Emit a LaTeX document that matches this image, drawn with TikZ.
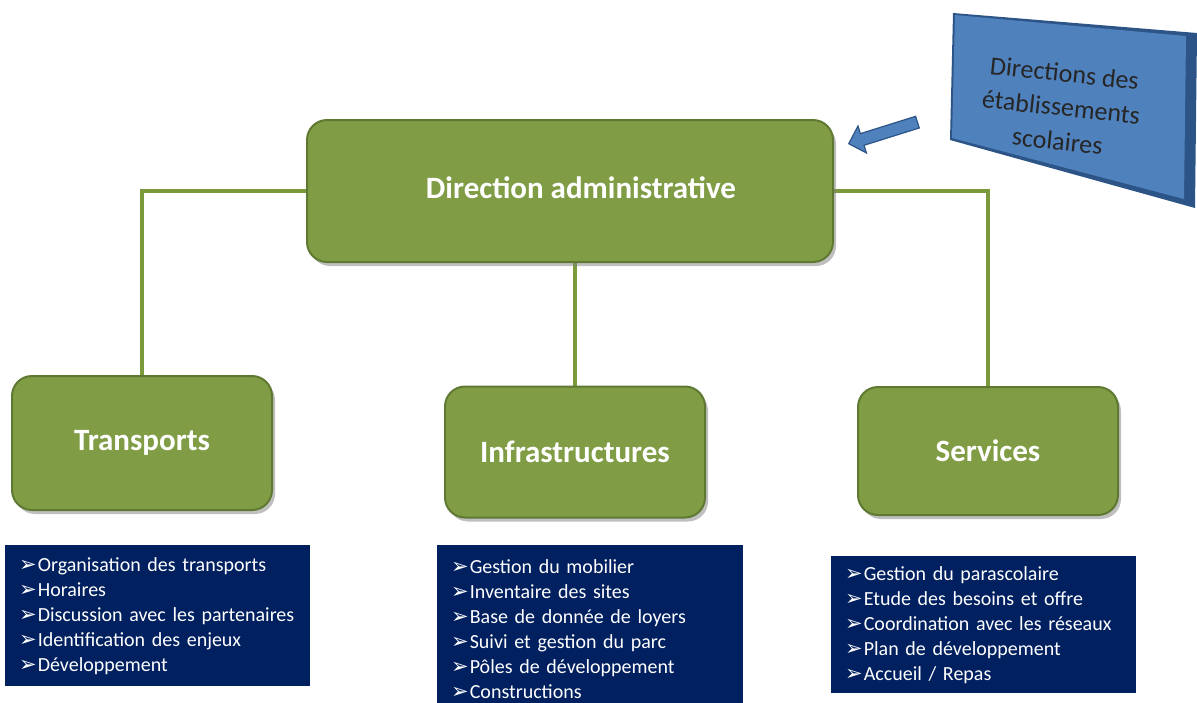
\documentclass[tikz,border=0pt]{standalone}
\usepackage{fontspec}
\setmainfont{Carlito}
\newfontfamily\symbfont{DejaVu Sans}
\usetikzlibrary{shadows}
\usetikzlibrary{shapes.arrows}
\usetikzlibrary{backgrounds}
\definecolor{boxGreen}{RGB}{128,157,70}
\definecolor{boxGreenDark}{RGB}{96,121,50}
\definecolor{lineGreen}{RGB}{122,154,60}
\definecolor{listBlue}{RGB}{0,32,96}
\definecolor{schoolBlue}{RGB}{79,129,189}
\definecolor{schoolBlueDark}{RGB}{45,84,134}
\newcommand{\puce}{{\symbfont\fontsize{21}{21}\selectfont ➢}\hspace{1pt}}
\tikzset{
	unitbox/.style={rounded corners=20pt, fill=boxGreen, draw=boxGreenDark, line width=2pt, text=white,
		font=\bfseries\fontsize{31}{31}\selectfont,
		drop shadow={shadow xshift=3pt, shadow yshift=-4pt, opacity=0.5}},
	tasklist/.style={anchor=north west, fill=listBlue, text=white, align=left, inner xsep=14pt,
		font=\fontsize{20}{25}\selectfont},
	link/.style={lineGreen, line width=4pt}
}

\begin{document}
\begin{tikzpicture}[x=1pt, y=-1pt]
\path[use as bounding box] (0,0) rectangle (1197,702);
\clip (0,0) rectangle (1197,702);
%
% les unites
\node[unitbox, minimum width=526pt, minimum height=142pt] (direction) at (570,191) {\hspace*{22pt}Direction administrative\raisebox{0pt}[0pt][6pt]{}};
\node[unitbox, minimum width=260pt, minimum height=134pt] (transports) at (142,443) {Transports};
\node[unitbox, minimum width=260pt, minimum height=131pt] (infra) at (575,452) {Infrastructures};
\node[unitbox, minimum width=260pt, minimum height=128pt] (services) at (988,451) {Services};
%
% liaisons
\begin{pgfonlayer}{background}
\draw[link] (direction.west) -| (transports.north);
\draw[link] (direction.east) -| (services.north);
\draw[link] (infra.north |- direction.south) -- (infra.north);
\end{pgfonlayer}
%
% directions des etablissements
\fill[schoolBlueDark] (953,13) -- (1197,33) -- (1195,208) -- (950,140) -- cycle;
\fill[schoolBlue] (955,15) -- (1186,36) -- (1184,199) -- (952,138) -- cycle;
\node[align=center, rotate=-6, text=black!85, font=\fontsize{26}{34}\selectfont] (ecoles) at (1061,107)
	{Directions des\\établissements\\scolaires};
\node[single arrow, draw=schoolBlueDark, fill=schoolBlue, line width=1.2pt, inner xsep=0pt, inner ysep=5.5pt,
	rotate=197.4, minimum height=72pt, single arrow head extend=8pt] (fleche) at (886,132) {};
%
% listes des taches
\node[tasklist, minimum width=305pt, minimum height=141pt, text width=277pt] (listeT) at (5,545) {%
	\puce Organisation des transports\\
	\puce Horaires\\
	\puce Discussion avec les partenaires\\
	\puce Identification des enjeux\\
	\puce Développement};
\node[tasklist, minimum width=306pt, minimum height=167pt, text width=278pt] (listeI) at (437,545) {%
	\puce Gestion du mobilier\\
	\puce Inventaire des sites\\
	\puce Base de donnée de loyers\\
	\puce Suivi et gestion du parc\\
	\puce Pôles de développement\\
	\puce Constructions};
\node[tasklist, minimum width=305pt, minimum height=137pt, text width=277pt] (listeS) at (831,556) {%
	\puce Gestion du parascolaire\\
	\puce Etude des besoins et offre\\
	\puce Coordination avec les réseaux\\
	\puce Plan de développement\\
	\puce Accueil / Repas};
%
\end{tikzpicture}
\end{document}
